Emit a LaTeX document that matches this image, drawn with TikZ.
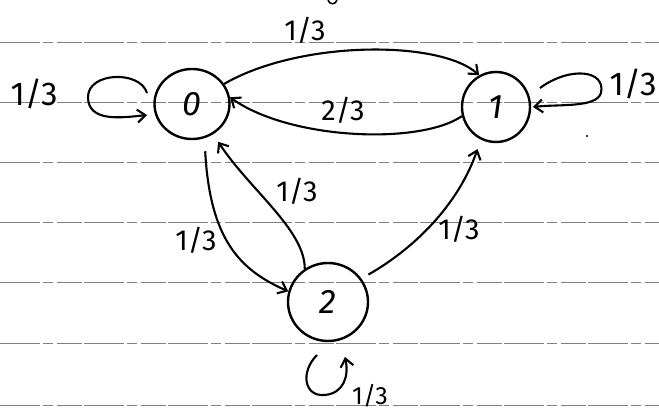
\documentclass[tikz,border=0pt]{standalone}
\usepackage{fontspec}
\setsansfont{Fira Sans}
\usetikzlibrary{shapes.geometric,arrows.meta}
\tikzset{
  ruled/.style={draw=black!50, line width=1pt, dash pattern=on 40pt off 3pt on 10pt off 4pt on 25pt off 2pt},
  state/.style={ellipse, draw, line width=2.4pt, inner sep=0pt, font=\sffamily\fontsize{34}{34}\selectfont},
  edge/.style={line width=2.1pt, -{Straight Barb[length=8pt,width=13pt,line width=2.1pt]}},
  prob/.style={font=\sffamily\fontsize{29}{29}\selectfont, inner sep=0pt},
  bigprob/.style={font=\sffamily\fontsize{33}{33}\selectfont, inner sep=0pt},
}
\begin{document}
\begin{tikzpicture}[x=1pt,y=-1pt]
\useasboundingbox[fill=white] (0,0) rectangle (659,414);
% ruled paper lines
\foreach \yy in {43,103,163,223,283,343,405}
  \draw[ruled] (0,\yy) -- (659,\yy);
% stray marks
\draw[line width=1.5pt] (328,0) .. controls (329,5) and (336,5) .. (337,0);
\fill (587,136) circle (1.2pt);
% states
\node[state, minimum width=75pt, minimum height=70pt] (n0) at (192,104) {\itshape 0};
\node[state, minimum width=68pt, minimum height=70pt] (n1) at (496,107) {\itshape 1};
\node[state, minimum width=80pt, minimum height=78pt] (n2) at (328,302) {\itshape 2};
% loop coordinates
\coordinate (l0a) at (147,93);
\coordinate (l0b) at (147,115);
\coordinate (l1a) at (540,88);
\coordinate (l1b) at (533,107);
\coordinate (l2a) at (317,355);
\coordinate (l2b) at (345,357);
% edges
\draw[edge] (n0.32) .. controls (300,40) and (440,40) .. (n1.118);
\draw[edge] (n1.195) .. controls (420,145) and (290,140) .. (n0.10);
\draw[edge, shorten <=13pt] (n0.290) .. controls (210,240) and (240,270) .. (n2.165);
\draw[edge, shorten >=9pt] (n2.125) .. controls (305,230) and (250,190) .. (n0.305);
\draw[edge, shorten <=8pt, shorten >=10pt] (n2.35) .. controls (420,245) and (460,200) .. (n1.245);
% self loops
\draw[edge] (l0a) .. controls (140,70) and (88,72) .. (88,97) .. controls (88,122) and (120,118) .. (l0b);
\draw[edge] (l1a) .. controls (570,66) and (606,70) .. (601,93) .. controls (596,108) and (560,104) .. (l1b);
\draw[edge] (l2a) .. controls (300,372) and (304,397) .. (325,395) .. controls (344,393) and (349,376) .. (l2b);
% probabilities
\node[prob] (p01) at (305,30) {1/3};
\node[prob] (p10) at (343,110) {2/3};
\node[bigprob] (p00) at (34,94) {1/3};
\node[bigprob] (p11) at (633,84) {1/3};
\node[prob] (p20) at (297,191) {1/3};
\node[prob] (p02) at (196,240) {1/3};
\node[prob] (p21) at (459,229) {1/3};
\node[font=\sffamily\fontsize{25}{25}\selectfont, inner sep=0pt] (p22) at (370,396) {1/3};
\end{tikzpicture}
\end{document}
